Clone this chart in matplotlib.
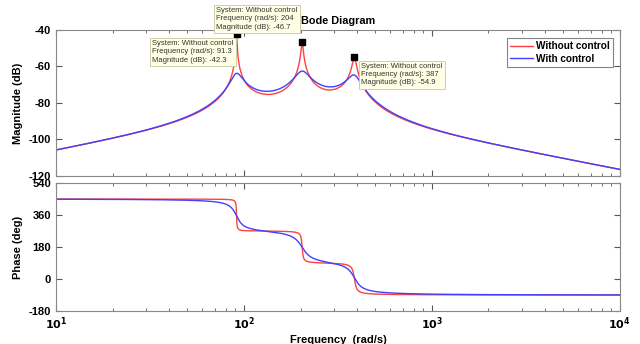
import numpy as np
import matplotlib.pyplot as plt
from matplotlib.ticker import LogLocator, NullFormatter

plt.rcParams['font.family'] = ['Liberation Sans', 'DejaVu Sans']

# modal model: natural frequencies, residues, damping
wn = np.array([91.3, 204.0, 387.0])
res_off = np.array([6.525e-3, -1.919e-2, 2.7765e-2])
zeta_off = np.array([0.00466, 0.01018, 0.01993])
res_on = np.array([7.523e-3, -2.5701e-2, 3.3278e-2])
zeta_on = np.array([0.0631, 0.0830, 0.0730])

series = ['Without control', 'With control']
colors = ['#ff4040', '#4040ff']

# data tips (frequency, magnitude) shown on the chart
tip_freq = [91.3, 204, 387]
tip_mag = [-42.3, -46.7, -54.9]
tip_pos = [(32.5, -45.5), (71.0, -27.5), (420, -58.0)]

w = np.logspace(1, 4, 6000)
s = 1j * w


def response(res, zeta):
    g = np.zeros_like(s)
    for wi, ri, zi in zip(wn, res, zeta):
        g = g + ri * s / (s**2 + 2 * zi * wi * s + wi**2)
    mag = 20 * np.log10(np.abs(g))
    ph = np.degrees(np.unwrap(np.angle(g)))
    ph = ph + 360 * np.round((450 - ph[0]) / 360)
    return mag, ph


fig = plt.figure(figsize=(6.4, 3.44), dpi=100)
ax1 = fig.add_axes([0.0875, 0.4884, 0.881, 0.4244])
ax2 = fig.add_axes([0.0875, 0.0959, 0.881, 0.372])

for name, col, r, z in zip(series, colors, [res_off, res_on], [zeta_off, zeta_on]):
    mag, ph = response(r, z)
    ax1.semilogx(w, mag, color=col, lw=1.0, label=name)
    ax2.semilogx(w, ph, color=col, lw=1.0)

for ax in (ax1, ax2):
    ax.set_xlim(10, 1e4)
    ax.xaxis.set_minor_locator(LogLocator(base=10, subs=np.arange(2, 10), numticks=20))
    ax.xaxis.set_minor_formatter(NullFormatter())
    ax.tick_params(which='both', direction='in', top=True, right=True,
                   color='#555555', labelsize=8)
    ax.tick_params(which='major', length=4)
    ax.tick_params(which='minor', length=2.5)
    for sp in ax.spines.values():
        sp.set_color('#888888')

ax1.set_ylim(-120, -40)
ax1.set_yticks([-120, -100, -80, -60, -40])
ax1.set_yticklabels(['-120', '-100', '-80', '-60', '-40'], fontweight='bold')
ax1.set_xticklabels([])
ax1.set_ylabel('Magnitude (dB)', fontsize=8, fontweight='bold')
ax1.set_title('Bode Diagram', fontsize=7.8, fontweight='bold', pad=4)

ax2.set_ylim(-180, 540)
ax2.set_yticks([-180, 0, 180, 360, 540])
ax2.set_yticklabels(['-180', '0', '180', '360', '540'], fontweight='bold')
ax2.set_xticks([10, 100, 1000, 10000])
ax2.set_xticklabels([r'$\mathbf{10^{1}}$', r'$\mathbf{10^{2}}$',
                     r'$\mathbf{10^{3}}$', r'$\mathbf{10^{4}}$'])
ax2.set_ylabel('Phase (deg)', fontsize=8, fontweight='bold')
ax2.set_xlabel('Frequency  (rad/s)', fontsize=8, fontweight='bold', labelpad=2)

leg = ax1.legend(loc='upper right', prop={'weight': 'bold', 'size': 7.2},
                 fancybox=False, edgecolor='#666666', handlelength=2.3,
                 borderpad=0.3, labelspacing=0.25, handletextpad=0.3,
                 borderaxespad=0, bbox_to_anchor=(0.988, 0.945))
leg.get_frame().set_linewidth(0.8)

for f, m, (tx, ty) in zip(tip_freq, tip_mag, tip_pos):
    ax1.plot([f], [m], 's', color='black', ms=4, zorder=5)
    ax1.text(tx, ty, 'System: Without control\nFrequency (rad/s): %g\nMagnitude (dB): %g' % (f, m),
             fontsize=5.5, va='top', ha='left', color='#333333', linespacing=1.25, zorder=6,
             bbox=dict(boxstyle='square,pad=0.3', fc='#ffffe6', ec='#c8c8a0', lw=0.6))

fig.savefig('out.png', dpi=100)
